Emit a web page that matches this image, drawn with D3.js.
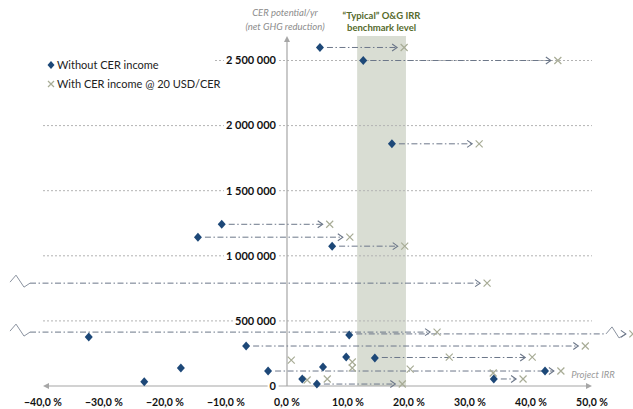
<!DOCTYPE html>
<html><head><meta charset="utf-8">
<script src="https://cdn.jsdelivr.net/npm/d3@7"></script>
<style>
html,body{margin:0;padding:0;background:#fff;}
svg{display:block;font-family:Lato,"Open Sans",sans-serif;}
</style></head>
<body>
<svg id="chart" width="633" height="409"></svg>
<script>
// ---- data ----
const xTicks = [-40, -30, -20, -10, 0, 10, 20, 30, 40, 50];
const yTicks = [0, 500000, 1000000, 1500000, 2000000, 2500000];
const benchmark = [11.5, 19.5];

// Without CER income (diamonds): IRR %, CER/yr
const withoutIRR = [5.4, 12.5, 17.2, -10.7, -14.6, 7.4, 10.2, -32.5, -6.7, 14.4, 9.7, 5.9, -3.1, 42.3, -23.4, -17.4, 2.5, 4.9, 33.9];
const withoutCER = [2600000, 2500000, 1860000, 1242000, 1143000, 1074000, 391000, 376000, 307000, 215000, 222000, 146000, 115000, 115000, 33000, 138000, 54000, 15000, 54000];

// With CER income @ 20 USD/CER (crosses)
const withIRR = [19.2, 44.4, 31.5, 7.0, 10.3, 19.3, 32.8, 24.6, 56.7, 48.9, 40.2, 26.6, 0.7, 10.7, 10.7, 20.2, 33.8, 44.9, 3.3, 6.6, 18.9, 38.7];
const withCER = [2600000, 2500000, 1860000, 1242000, 1143000, 1074000, 790000, 414000, 400000, 307000, 222000, 222000, 199000, 184000, 138000, 130000, 100000, 115000, 46000, 54000, 15000, 54000];

// Arrows (IRR without -> IRR with); null = off scale on the left
const arrowFrom = [5.4, 12.5, 17.2, -10.7, -14.6, 7.4, null, null, 10.2, -6.7, 14.4, -3.1, 4.9, 33.9];
const arrowTo   = [19.2, 44.4, 31.5, 7.0, 10.3, 19.3, 32.8, 24.6, 56.7, 48.9, 40.2, 44.9, 18.9, 38.7];
const arrowCER  = [2600000, 2500000, 1860000, 1242000, 1143000, 1074000, 790000, 414000, 400000, 307000, 219000, 115000, 15000, 54000];

// ---- drawing ----
const svg = d3.select("#chart");
const x = d3.scaleLinear().domain([-40, 50]).range([43, 592]);
const y = d3.scaleLinear().domain([0, 2500000]).range([386, 60.5]);

const fmtY = v => d3.format(",")(v).replace(/,/g, " ");
const fmtX = v => d3.format(".1f")(v).replace(".", ",") + " %";

// benchmark band
svg.append("rect")
  .attr("x", x(benchmark[0])).attr("y", 36)
  .attr("width", x(benchmark[1]) - x(benchmark[0]))
  .attr("height", y(0) - 36)
  .attr("fill", "#d9ddd3");

// gridlines
svg.append("g").selectAll("line").data(yTicks.filter(d => d > 0)).join("line")
  .attr("x1", x(-40)).attr("x2", x(50))
  .attr("y1", d => y(d)).attr("y2", d => y(d))
  .attr("stroke", "#b3b3b3").attr("stroke-width", 1)
  .attr("stroke-dasharray", "2,2");

// axes
const axisCol = "#a6a6a6";
svg.append("line").attr("x1", x(-40) + 3).attr("x2", x(50) - 2)
  .attr("y1", y(0)).attr("y2", y(0)).attr("stroke", axisCol).attr("stroke-width", 1.2);
svg.append("path").attr("d", `M${x(-40)},${y(0)} l6,-3 l0,6 Z`).attr("fill", axisCol);
svg.append("path").attr("d", `M${x(50)},${y(0)} l-6,-3 l0,6 Z`).attr("fill", axisCol);
svg.append("line").attr("x1", x(0)).attr("x2", x(0))
  .attr("y1", y(0)).attr("y2", 40).attr("stroke", axisCol).attr("stroke-width", 1.2);
svg.append("path").attr("d", `M${x(0)},36 l-3,6 l6,0 Z`).attr("fill", axisCol);

// y tick labels with white background
const yl = svg.append("g").selectAll("g").data(yTicks).join("g")
  .attr("transform", d => `translate(${x(0) - 11},${y(d)})`);
yl.append("text")
  .attr("text-anchor", "end").attr("dy", "0.35em")
  .attr("font-size", 11).attr("font-weight", 700).attr("fill", "#111")
  .text(fmtY)
  .each(function() {
    const b = this.getBBox();
    d3.select(this.parentNode).insert("rect", "text")
      .attr("x", b.x - 2).attr("y", b.y).attr("width", b.width + 4).attr("height", b.height)
      .attr("fill", "#fff");
  });

// x tick labels
svg.append("g").selectAll("text").data(xTicks).join("text")
  .attr("x", d => x(d)).attr("y", 406)
  .attr("text-anchor", "middle")
  .attr("font-size", 10.5).attr("font-weight", 700).attr("fill", "#111")
  .text(fmtX);

// axis titles
svg.append("text").attr("x", x(0) - 2).attr("y", 16).attr("text-anchor", "middle")
  .attr("font-size", 9.5).attr("font-style", "italic").attr("fill", "#8c8c8c").text("CER potential/yr");
svg.append("text").attr("x", x(0) - 2).attr("y", 30).attr("text-anchor", "middle")
  .attr("font-size", 9.5).attr("font-style", "italic").attr("fill", "#8c8c8c").text("(net GHG reduction)");
svg.append("text").attr("x", 593).attr("y", 378).attr("text-anchor", "middle")
  .attr("font-size", 9.5).attr("font-style", "italic").attr("fill", "#9a9a9a").text("Project IRR");

// benchmark title
const bx = (x(benchmark[0]) + x(benchmark[1])) / 2;
svg.append("text").attr("x", bx).attr("y", 19).attr("text-anchor", "middle")
  .attr("font-size", 9.5).attr("font-weight", 700).attr("fill", "#566a2c").text("\u201CTypical\u201D O&G IRR");
svg.append("text").attr("x", bx).attr("y", 31).attr("text-anchor", "middle")
  .attr("font-size", 9.5).attr("font-weight", 700).attr("fill", "#566a2c").text("benchmark level");

// arrows
const arrowCol = "#6c7789";
const ag = svg.append("g");
arrowFrom.forEach((f, i) => {
  const yy = y(arrowCER[i]);
  const tx = x(arrowTo[i]);
  const broken = arrowTo[i] > 50;
  const tip = tx - 7;
  const x0 = f === null ? x(-40) - 13 : x(f) + 7;
  const lineEnd = broken ? x(50) + 14 : tip;
  ag.append("line").attr("x1", x0).attr("x2", lineEnd).attr("y1", yy).attr("y2", yy)
    .attr("stroke", arrowCol).attr("stroke-width", 1)
    .attr("stroke-dasharray", "6,2.5,1.5,2.5");
  if (f === null) {
    const z = x(-40) - 13;
    ag.append("path").attr("d", `M${z - 20},${yy - 1} L${z - 14},${yy - 8} L${z - 6},${yy + 4} L${z},${yy}`)
      .attr("fill", "none").attr("stroke", "#8b93a0").attr("stroke-width", 1);
  }
  if (broken) {
    const z = x(50) + 14;
    ag.append("path").attr("d", `M${z},${yy} L${z + 6},${yy - 7} L${z + 13},${yy + 4} L${tip},${yy}`)
      .attr("fill", "none").attr("stroke", "#8b93a0").attr("stroke-width", 1);
  }
  ag.append("path").attr("d", `M${tip - 5},${yy - 3.5} L${tip},${yy} L${tip - 5},${yy + 3.5}`)
    .attr("fill", "none").attr("stroke", arrowCol).attr("stroke-width", 1.1);
});

// crosses
const crossCol = "#a8ac96";
svg.append("g").selectAll("path").data(withIRR.map((v, i) => [v, withCER[i]])).join("path")
  .attr("d", d => { const cx = x(d[0]), cy = y(d[1]), s = 3.5;
    return `M${cx - s},${cy - s}L${cx + s},${cy + s}M${cx - s},${cy + s}L${cx + s},${cy - s}`; })
  .attr("stroke", crossCol).attr("stroke-width", 1.2).attr("fill", "none");

// diamonds
const diamondCol = "#1d4878";
const diamond = (cx, cy, r) => `M${cx},${cy - r - 0.5}L${cx + r},${cy}L${cx},${cy + r + 0.5}L${cx - r},${cy}Z`;
svg.append("g").selectAll("path").data(withoutIRR.map((v, i) => [v, withoutCER[i]])).join("path")
  .attr("d", d => diamond(x(d[0]), y(d[1]), 4))
  .attr("fill", diamondCol);

// legend
const lg = svg.append("g");
lg.append("rect").attr("x", 40).attr("y", 52).attr("width", 175).attr("height", 44).attr("fill", "#fff");
lg.append("path").attr("d", diamond(51, 65, 3.5)).attr("fill", diamondCol);
lg.append("text").attr("x", 57).attr("y", 65).attr("dy", "0.35em")
  .attr("font-size", 11).attr("fill", "#222").text("Without CER income");
lg.append("path").attr("d", "M48,81L54,87M48,87L54,81").attr("stroke", crossCol).attr("stroke-width", 1.2);
lg.append("text").attr("x", 57).attr("y", 84).attr("dy", "0.35em")
  .attr("font-size", 11).attr("fill", "#222").text("With CER income @ 20 USD/CER");
</script>
</body></html>
